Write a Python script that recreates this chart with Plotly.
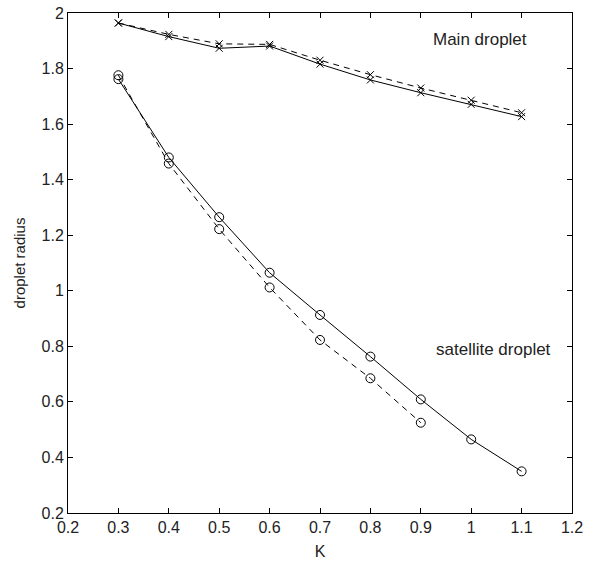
import plotly.graph_objects as go

K_main = [0.3, 0.4, 0.5, 0.6, 0.7, 0.8, 0.9, 1.0, 1.1]
main_solid = [1.964, 1.915, 1.873, 1.881, 1.816, 1.759, 1.713, 1.671, 1.627]
main_dashed = [1.964, 1.923, 1.889, 1.887, 1.830, 1.778, 1.730, 1.686, 1.641]

K_sat_solid = [0.3, 0.4, 0.5, 0.6, 0.7, 0.8, 0.9, 1.0, 1.1]
sat_solid = [1.762, 1.480, 1.265, 1.065, 0.913, 0.763, 0.609, 0.465, 0.350]
K_sat_dashed = [0.3, 0.4, 0.5, 0.6, 0.7, 0.8, 0.9]
sat_dashed = [1.776, 1.458, 1.222, 1.012, 0.823, 0.685, 0.525]

x_ticks = [0.2, 0.3, 0.4, 0.5, 0.6, 0.7, 0.8, 0.9, 1.0, 1.1, 1.2]
x_tick_text = ["0.2", "0.3", "0.4", "0.5", "0.6", "0.7", "0.8", "0.9", "1", "1.1", "1.2"]
y_ticks = [0.2, 0.4, 0.6, 0.8, 1.0, 1.2, 1.4, 1.6, 1.8, 2.0]
y_tick_text = ["0.2", "0.4", "0.6", "0.8", "1", "1.2", "1.4", "1.6", "1.8", "2"]

fig = go.Figure()
fig.add_trace(go.Scatter(x=K_main, y=main_solid, mode="lines+markers",
                         line=dict(color="black", width=1),
                         marker=dict(symbol="x-thin-open", size=7, color="black", line=dict(width=1, color="black"))))
fig.add_trace(go.Scatter(x=K_main, y=main_dashed, mode="lines+markers",
                         line=dict(color="black", width=1, dash="6px,5px"),
                         marker=dict(symbol="x-thin-open", size=7, color="black", line=dict(width=1, color="black"))))
fig.add_trace(go.Scatter(x=K_sat_solid, y=sat_solid, mode="lines+markers",
                         line=dict(color="black", width=1),
                         marker=dict(symbol="circle-open", size=9, color="black", line=dict(width=1, color="black"))))
fig.add_trace(go.Scatter(x=K_sat_dashed, y=sat_dashed, mode="lines+markers",
                         line=dict(color="black", width=1, dash="6px,5px"),
                         marker=dict(symbol="circle-open", size=9, color="black", line=dict(width=1, color="black"))))

fig.add_annotation(x=1.017, y=1.903, text="Main droplet", showarrow=False,
                   font=dict(size=17, color="#222"))
fig.add_annotation(x=1.044, y=0.79, text="satellite droplet", showarrow=False,
                   font=dict(size=17, color="#222"))

axis_common = dict(showline=True, linecolor="black", linewidth=1, mirror="ticks",
                   ticks="inside", ticklen=5, tickcolor="black", showgrid=False,
                   zeroline=False, automargin=False, tickfont=dict(size=16, color="#222"))

fig.update_layout(
    template="none",
    width=593, height=564,
    margin=dict(l=68, r=21, t=13, b=51),
    paper_bgcolor="white", plot_bgcolor="white",
    showlegend=False,
    font=dict(family="Liberation Sans, Arial, sans-serif", color="#222"),
    xaxis=dict(range=[0.2, 1.2], tickvals=x_ticks, ticktext=x_tick_text,
               title=dict(text="K", font=dict(size=16), standoff=10), **axis_common),
    yaxis=dict(range=[0.2, 2.0], tickvals=y_ticks, ticktext=y_tick_text,
               title=dict(text="droplet radius", font=dict(size=15), standoff=12), **axis_common),
)

fig.write_html("out.html", config={"displayModeBar": False},
               post_script="document.body.style.margin='0';")
